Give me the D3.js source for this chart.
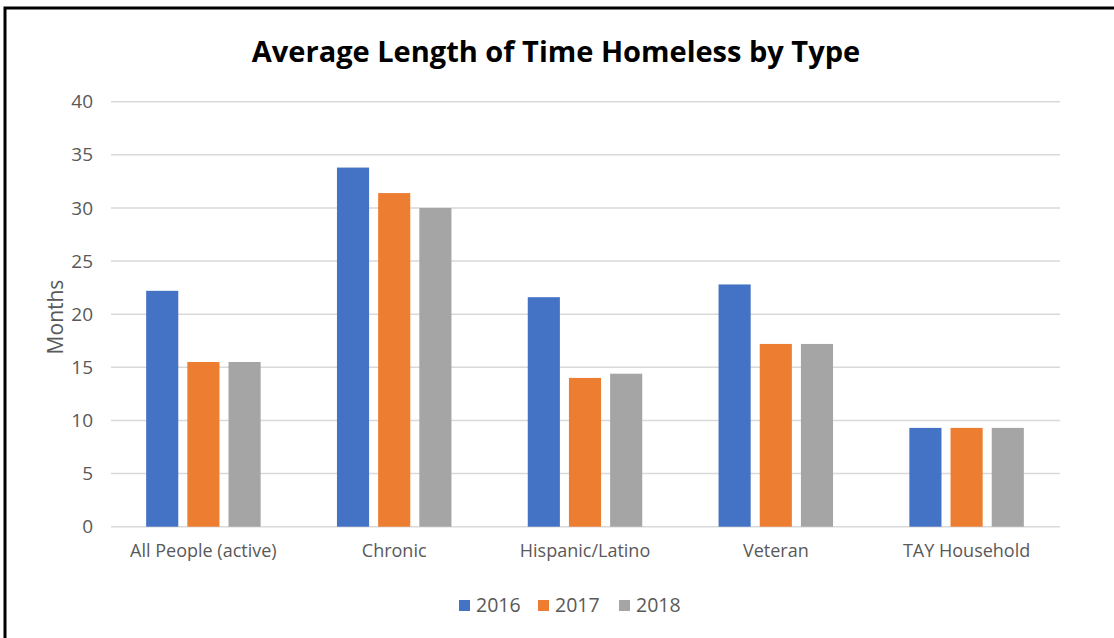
<html>
<head>
<script src="https://d3js.org/d3.v7.min.js"></script>
<style>
  body { margin: 0; background: #fff; }
  text { font-family: "Open Sans", sans-serif; }
</style>
</head>
<body>
<svg id="chart" width="1114" height="638"></svg>
<script>
// chart data
var categories = ['All People (active)', 'Chronic', 'Hispanic/Latino', 'Veteran', 'TAY Household'];
var years = ['2016', '2017', '2018'];
var values2016 = [22.2, 33.8, 21.6, 22.8, 9.3];
var values2017 = [15.5, 31.4, 14.0, 17.2, 9.3];
var values2018 = [15.5, 30.0, 14.4, 17.2, 9.3];
var yTicks = [0, 5, 10, 15, 20, 25, 30, 35, 40];
var colors = ['#4472C4', '#ED7D31', '#A5A5A5'];

var series = [values2016, values2017, values2018];

var svg = d3.select('#chart');

// frame around the picture
svg.append('rect')
    .attr('x', 5).attr('y', 8)
    .attr('width', 1200).attr('height', 700)
    .attr('fill', 'none')
    .attr('stroke', '#000')
    .attr('stroke-width', 3);

var x0 = d3.scaleBand()
    .domain(categories)
    .range([108, 1062])
    .paddingInner(0.40)
    .paddingOuter(0.2);

var x1 = d3.scaleBand()
    .domain(years)
    .range([0, x0.bandwidth()])
    .paddingInner(0.22);

var y = d3.scaleLinear()
    .domain([0, 40])
    .range([526.7, 101.7]);

// gridlines
svg.append('g')
    .selectAll('line')
    .data(yTicks)
    .enter()
    .append('line')
    .attr('x1', 111).attr('x2', 1060)
    .attr('y1', function (d) { return y(d); })
    .attr('y2', function (d) { return y(d); })
    .attr('stroke', '#d9d9d9')
    .attr('stroke-width', 1.5);

// y tick labels
var yAxis = svg.append('g')
    .attr('transform', 'translate(93,0)')
    .call(d3.axisLeft(y).tickValues(yTicks).tickSize(0).tickPadding(0));
yAxis.select('.domain').remove();
yAxis.selectAll('text')
    .style('font-family', '"Open Sans", sans-serif')
    .style('font-size', '19px')
    .attr('fill', '#595959');

// bars
svg.append('g')
    .selectAll('g')
    .data(series)
    .enter()
    .append('g')
    .attr('fill', function (d, i) { return colors[i]; })
    .each(function (vals, si) {
        d3.select(this).selectAll('rect')
            .data(vals)
            .enter()
            .append('rect')
            .attr('x', function (d, i) { return x0(categories[i]) + x1(years[si]); })
            .attr('width', x1.bandwidth())
            .attr('y', function (d) { return y(d); })
            .attr('height', function (d) { return y(0) - y(d); });
    });

// x labels
var xAxis = svg.append('g')
    .attr('transform', 'translate(0,544)')
    .call(d3.axisBottom(x0).tickSize(0).tickPadding(0));
xAxis.select('.domain').remove();
xAxis.selectAll('text')
    .style('font-family', '"Open Sans", sans-serif')
    .style('font-size', '18px')
    .attr('fill', '#595959');

// title
svg.append('text')
    .attr('x', 556).attr('y', 62)
    .attr('text-anchor', 'middle')
    .style('font-size', '29px')
    .style('font-weight', 'bold')
    .attr('fill', '#000')
    .text('Average Length of Time Homeless by Type');

// y axis title
svg.append('text')
    .attr('transform', 'translate(63,317) rotate(-90)')
    .attr('text-anchor', 'middle')
    .style('font-size', '21px')
    .attr('fill', '#595959')
    .text('Months');

// legend
var legendX = [459, 538, 619];
var legend = svg.append('g')
    .selectAll('g')
    .data(years)
    .enter()
    .append('g')
    .attr('transform', function (d, i) { return 'translate(' + legendX[i] + ',600)'; });
legend.append('rect')
    .attr('width', 11).attr('height', 11)
    .attr('fill', function (d, i) { return colors[i]; });
legend.append('text')
    .attr('x', 17).attr('y', 11.5)
    .style('font-size', '19.5px')
    .attr('fill', '#595959')
    .text(function (d) { return d; });
</script>
</body>
</html>
